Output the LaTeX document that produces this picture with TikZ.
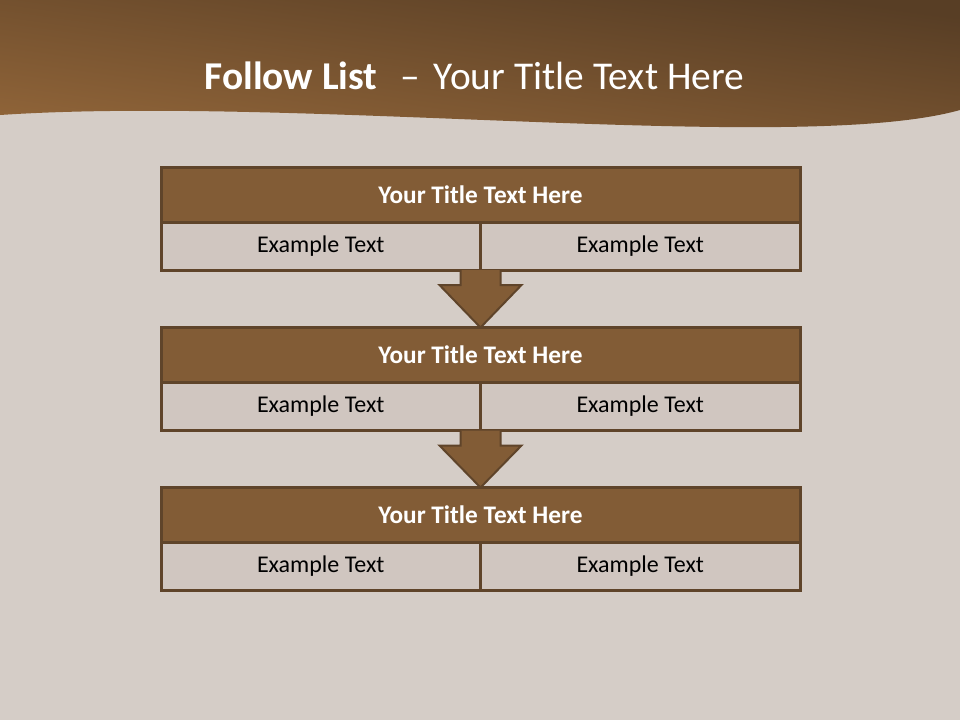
\documentclass[tikz,border=0pt]{standalone}
\usepackage{fontspec}
\setmainfont{Carlito}
\usetikzlibrary{positioning,calc}
\definecolor{pagebg}{RGB}{213,205,199}
\definecolor{hdrdark}{RGB}{88,62,37}
\definecolor{hdrlight}{RGB}{148,103,58}
\definecolor{bandfill}{RGB}{130,92,54}
\definecolor{edge}{RGB}{95,68,42}
\definecolor{cellfill}{RGB}{208,198,192}

\newcommand\flowarrow[2]{%
  \filldraw[blockarrow] ($(#1)+(-20,0)$) -- ($(#1)+(-20,15)$) -- ($(#1)+(-41,15)$)
    -- (#2) -- ($(#1)+(41,15)$) -- ($(#1)+(20,15)$) -- ($(#1)+(20,0)$);}

\begin{document}
\begin{tikzpicture}[
    x=1pt, y=-1pt,
    band/.style={draw=edge, line width=3pt, fill=bandfill, minimum width=639pt, minimum height=55pt, inner sep=0pt, outer sep=0pt, text=white, font=\fontsize{25.3}{30}\selectfont\bfseries},
    cell/.style={draw=edge, line width=3pt, fill=cellfill, minimum width=319.5pt, minimum height=48pt, inner sep=0pt, outer sep=0pt, font=\fontsize{24}{28}\selectfont},
    blockarrow/.style={draw=edge, line width=2pt, fill=bandfill, line join=miter}
  ]
    % page and header
    \fill[pagebg] (0,0) rectangle (960,720);
    \useasboundingbox (0,0) rectangle (960,720);
    \shade[top color=hdrdark, bottom color=hdrlight, shading angle=-8]
      (0,0) -- (960,0) -- (960,110) .. controls (800,155) and (300,95) .. (0,115) -- cycle;
    \node[anchor=west, text=white, font=\fontsize{39.4}{46}\selectfont] (title) at (201,76)
      {\textbf{Follow List}\hspace{23pt}–\hspace{14pt}Your Title Text Here};

    % first box
    \node[band] (t1) at (480.5,194.5) {Your Title Text Here};
    \node[cell, below right=0pt of t1.south west] (c1l) {Example Text};
    \node[cell, right=0pt of c1l] (c1r) {Example Text};

    % second box
    \node[band] (t2) at (480.5,355) {Your Title Text Here};
    \node[cell, below right=0pt of t2.south west] (c2l) {Example Text};
    \node[cell, right=0pt of c2l] (c2r) {Example Text};

    % third box
    \node[band] (t3) at (480.5,515) {Your Title Text Here};
    \node[cell, below right=0pt of t3.south west] (c3l) {Example Text};
    \node[cell, right=0pt of c3l] (c3r) {Example Text};

    \flowarrow{c1l.south east}{t2.north}
    \flowarrow{c2l.south east}{t3.north}
  \end{tikzpicture}
\end{document}
